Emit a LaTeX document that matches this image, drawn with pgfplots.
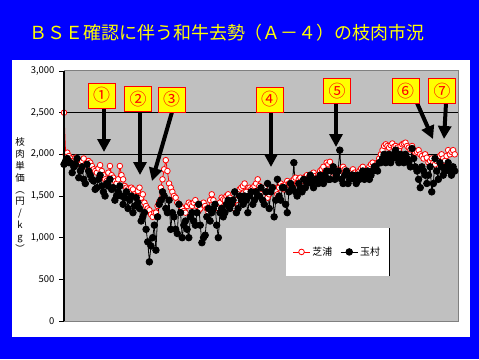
\documentclass[border=0pt]{standalone}
\usepackage{fontspec}
\setmainfont{Noto Sans CJK JP}
\usepackage{pgfplots}
\pgfplotsset{compat=1.18}
\usetikzlibrary{arrows.meta}
\definecolor{bgblue}{HTML}{0000FF}
\definecolor{plotgray}{HTML}{C0C0C0}
\definecolor{axisgray}{HTML}{808080}
\definecolor{ttlyellow}{HTML}{FFFF00}

\pgfplotstableread{
i shibaura tamamura
0 2500 1880
0.5 2000 1920
1 2020 1950
1.5 1980 1900
2 1950 1900
2.5 1920 1780
3 1900 1850
3.5 1960 1880
4 1930 1950
4.5 1900 1720
5 1880 1800
5.5 1920 1850
6 1950 1700
6.5 1880 1650
7 1850 1880
7.5 1920 1800
8 1900 1750
8.5 1860 1700
9 1820 1680
9.5 1800 1580
10 1780 1600
10.5 1830 1700
11 1870 1750
11.5 1800 1620
12 1750 1550
12.5 1700 1500
13 1680 1650
13.5 1780 1620
14 1860 1700
14.5 1750 1580
15 1720 1600
15.5 1680 1450
16 1650 1500
16.5 1700 1550
17 1860 1620
17.5 1750 1500
18 1700 1400
18.5 1620 1480
19 1600 1550
19.5 1580 1350
20 1550 1450
20.5 1600 1500
21 1580 1300
21.5 1520 1380
22 1500 1480
22.5 1560 1420
23 1600 1350
23.5 1480 1200
24 1520 1250
24.5 1420 1300
25 1380 1100
25.5 1350 950
26 1330 710
26.5 1280 900
27 1250 1000
27.5 1300 1150
28 1300 850
28.5 1380 1250
29 1430 1400
29.5 1600 1450
30 1700 1550
30.5 1820 1500
31 1930 1350
31.5 1800 1300
32 1650 1450
32.5 1600 1100
33 1550 1300
33.5 1500 1250
34 1480 1100
34.5 1420 1050
35 1400 1400
35.5 1380 1300
36 1350 1000
36.5 1320 1150
37 1300 1200
37.5 1380 1100
38 1420 1000
38.5 1400 1250
39 1380 1300
39.5 1420 1200
40 1450 1150
40.5 1380 1300
41 1320 1400
41.5 1350 1150
42 1400 940
42.5 1420 1000
43 1380 1030
43.5 1350 1250
44 1300 1350
44.5 1450 1200
45 1520 1300
45.5 1450 1350
46 1400 1400
46.5 1380 1150
47 1350 1000
47.5 1420 1300
48 1480 1350
48.5 1460 1250
49 1450 1300
49.5 1500 1400
50 1520 1450
50.5 1480 1350
51 1400 1400
51.5 1420 1450
52 1350 1550
52.5 1450 1300
53 1550 1350
53.5 1580 1500
54 1600 1450
54.5 1620 1400
55 1650 1500
55.5 1550 1450
56 1500 1300
56.5 1600 1500
57 1580 1550
57.5 1600 1400
58 1620 1450
58.5 1650 1550
59 1700 1500
59.5 1620 1500
60 1550 1600
60.5 1580 1450
61 1600 1400
61.5 1550 1550
62 1480 1650
62.5 1520 1350
63 1550 1550
63.5 1580 1600
64 1600 1250
64.5 1560 1450
65 1520 1700
65.5 1600 1500
66 1650 1450
66.5 1620 1600
67 1580 1600
67.5 1640 1400
68 1680 1300
68.5 1650 1550
69 1620 1650
69.5 1680 1600
70 1700 1900
70.5 1720 1550
71 1650 1500
71.5 1700 1650
72 1720 1600
72.5 1680 1550
73 1680 1700
73.5 1730 1600
74 1750 1650
74.5 1720 1700
75 1700 1750
75.5 1750 1650
76 1780 1600
76.5 1740 1700
77 1720 1700
77.5 1760 1650
78 1800 1750
78.5 1820 1700
79 1850 1650
79.5 1800 1750
80 1900 1800
80.5 1880 1700
81 1910 1700
81.5 1850 1800
82 1780 1850
82.5 1800 1700
83 1820 1750
83.5 1800 1800
84 1750 2050
84.5 1820 1700
85 1850 1650
85.5 1820 1750
86 1800 1800
86.5 1760 1650
87 1780 1700
87.5 1800 1750
88 1820 1750
88.5 1780 1700
89 1750 1650
89.5 1780 1750
90 1800 1700
90.5 1830 1750
91 1850 1800
91.5 1800 1700
92 1780 1750
92.5 1820 1800
93 1850 1700
93.5 1880 1750
94 1900 1800
94.5 1860 1850
95 1870 1850
95.5 1900 1800
96 1950 1900
96.5 2000 1900
97 2050 1950
97.5 2100 2000
98 2120 1900
98.5 2100 1950
99 2080 2000
99.5 2110 1900
100 2130 1950
100.5 2090 2000
101 2100 2050
101.5 2080 1950
102 2050 1900
102.5 2100 2000
103 2120 1950
103.5 2130 1900
104 2140 2000
104.5 2100 1950
105 2080 1900
105.5 2060 1850
106 2100 2070
106.5 2050 1950
107 2020 1850
107.5 2030 1800
108 2050 1700
108.5 2000 1600
109 1980 1850
109.5 1950 1800
110 2000 1750
110.5 1960 1650
111 1900 1750
111.5 1920 1850
112 1950 1550
112.5 1900 1650
113 1880 1950
113.5 1920 1800
114 1950 1700
114.5 1980 1900
115 2000 1850
115.5 1950 1750
116 1920 1800
116.5 1980 1850
117 2050 1900
117.5 2000 1800
118 2030 1750
118.5 2050 1850
119 2000 1800
}\datatable

\begin{document}
\begin{tikzpicture}[x=1bp,y=1bp]
\useasboundingbox (0,0) rectangle (479,359);
\fill[bgblue] (0,0) rectangle (479,359);
\fill[white] (12,22) rectangle (470,299);
\node[text=ttlyellow, font=\fontsize{18}{20}\selectfont, inner sep=0] at (227,326)
  {{\addfontfeatures{CharacterWidth=Full}BSE}確認に伴う和牛去勢（{\addfontfeatures{CharacterWidth=Full}A-4}）の枝肉市況};
\node[font=\fontsize{9.5}{12}\selectfont, align=center, inner sep=0] at (20,164)
  {枝\\肉\\単\\価\\︵\\円\\/\\k\\g\\︶};
\begin{axis}[
  at={(64bp,38bp)}, anchor=south west,
  scale only axis, width=394bp, height=250bp,
  xmin=0, xmax=120, ymin=0, ymax=3000,
  xtick=\empty,
  ytick={0,500,1000,1500,2000,2500,3000},
  yticklabels={0,500,{1,000},{1,500},{2,000},{2,500},{3,000}},
  ytick pos=left, tick align=outside, major tick length=5bp,
  tick style={black, line width=0.8bp},
  yticklabel style={font=\fontsize{9.5}{10}\selectfont, xshift=-1bp},
  axis background/.style={fill=plotgray},
  axis line style={draw=axisgray, line width=1bp},
  extra y ticks={2000,2500},
  extra y tick labels={},
  extra y tick style={grid=major, major grid style={black, line width=0.9bp}, major tick length=0pt},
  clip=false,
  legend style={at={(0.825,0.372)}, anchor=north east, legend columns=2, draw=none, fill=white,
    outer sep=0pt, font=\fontsize{10}{12}\selectfont, inner xsep=7bp, inner ysep=17bp,
    /tikz/every even column/.append style={column sep=6bp}},
]
\addplot[red, line width=0.8bp, mark=*, mark size=2.8bp, mark options={fill=white, draw=red, line width=0.8bp}]
  table[x=i, y=shibaura] {\datatable};
\addlegendentry{芝浦}
\addplot[black, line width=0.8bp, mark=*, mark size=3.3bp, mark options={fill=black}]
  table[x=i, y=tamamura] {\datatable};
\addlegendentry{玉村}
\end{axis}
\draw[black, line width=1.5bp] (64,38) -- (64,288);
\draw[black, line width=1.5bp] (389.5,83) -- (389.5,131);
% annotation boxes
\tikzset{ann/.style={fill=ttlyellow, draw=red, line width=0.9bp, minimum width=27bp, minimum height=25bp, inner sep=0, text=red, font=\fontsize{17}{17}\selectfont},
  arr/.style={black, line width=4bp, -{Triangle[width=13bp,length=13bp]}}}
\draw[arr] (104,251) -- (104,207);
\draw[arr] (140,248) -- (140,184);
\draw[arr] (172,247) -- (152,178);
\draw[arr] (271,247) -- (271,192);
\draw[arr] (336,256) -- (336,212);
\draw[arr] (417,256) -- (433,220);
\draw[arr] (446,256) -- (444,220);
\node[ann] at (101.5,263.5) {①};
\node[ann] at (138,260) {②};
\node[ann] at (171.5,259.5) {③};
\node[ann] at (269.5,259.5) {④};
\node[ann] at (337,268) {⑤};
\node[ann] at (405.5,268) {⑥};
\node[ann] at (442,268) {⑦};
\end{tikzpicture}
\end{document}
